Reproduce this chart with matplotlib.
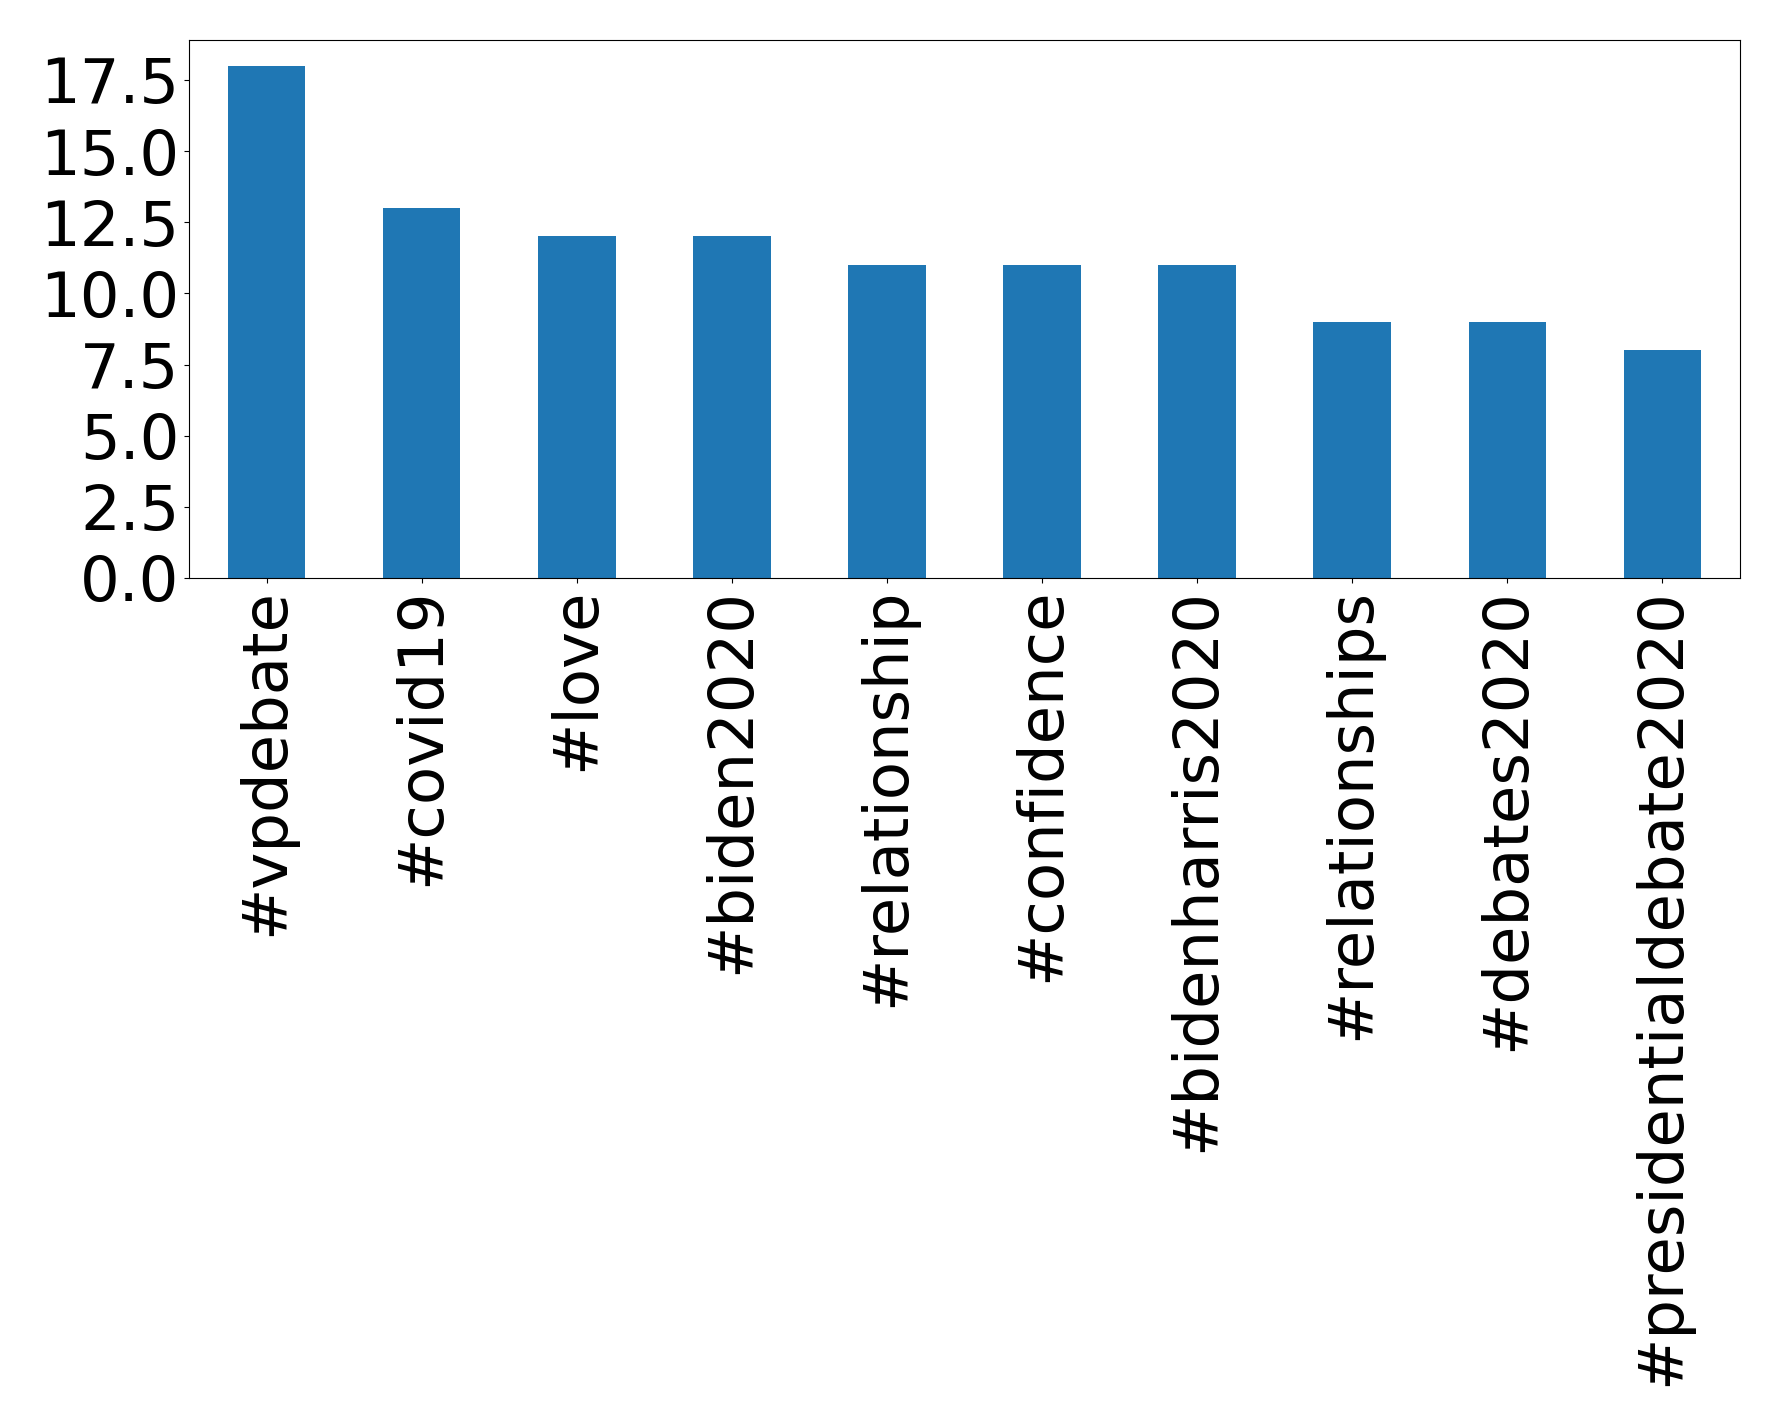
import matplotlib
matplotlib.use("Agg")
import matplotlib.pyplot as plt
from matplotlib.ticker import MultipleLocator, FormatStrFormatter
import pandas as pd

hashtags = ["#vpdebate", "#covid19", "#love", "#biden2020", "#relationship",
            "#confidence", "#bidenharris2020", "#relationships", "#debates2020",
            "#presidentialdebate2020"]
counts = [18, 13, 12, 12, 11, 11, 11, 9, 9, 8]

s = pd.Series(counts, index=hashtags)

fig = plt.figure(figsize=(17.78, 14.26), dpi=100)
ax = fig.add_subplot(111)
s.plot(kind="bar", ax=ax, color="#1f77b4", fontsize=45)
ax.tick_params(axis="both", labelsize=45)
ax.yaxis.set_major_locator(MultipleLocator(2.5))
ax.yaxis.set_major_formatter(FormatStrFormatter("%.1f"))

plt.subplots_adjust(left=189/1778, right=1740/1778, top=1-40/1426, bottom=1-578/1426)
plt.savefig("out.png", dpi=100)
